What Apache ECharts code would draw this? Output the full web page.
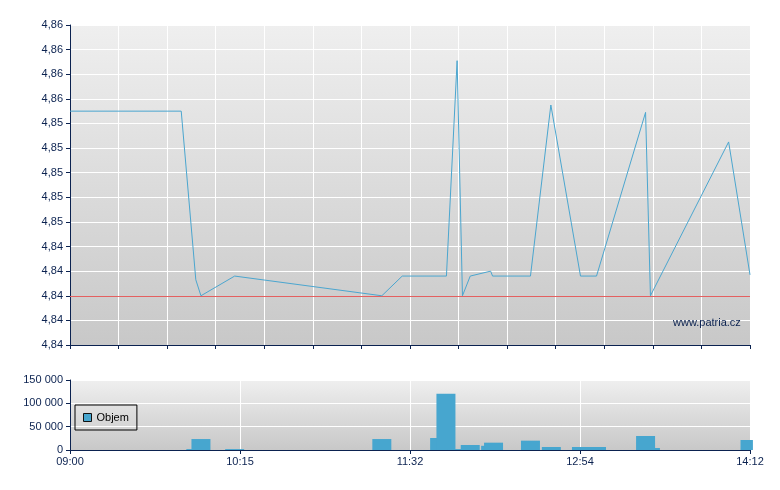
<!DOCTYPE html>
<html>
<head>
<meta charset="utf-8">
<script src="https://cdn.jsdelivr.net/npm/echarts@6/dist/echarts.min.js"></script>
<style>html,body{margin:0;padding:0;background:#fff}#c{width:780px;height:490px}</style>
</head>
<body>
<div id="c"></div>
<script>
// Position along the session axis (0 = 09:00, 140 = 14:12; label ticks every 35 units)
var priceX = [0, 22.9, 25.9, 26.96, 33.9, 64.2, 68.4, 77.5, 79.7, 80.8, 82.4, 86.6, 87.0, 94.8, 99.0, 105.1, 108.4, 118.5, 119.5, 135.6, 140];
var priceY = [4.8550, 4.8550, 4.8413, 4.8400, 4.8416, 4.8400, 4.8416, 4.8416, 4.8591, 4.8400, 4.8416, 4.8420, 4.8416, 4.8416, 4.8555, 4.8416, 4.8416, 4.8549, 4.8400, 4.8525, 4.8417];
var volumeX = [25.9, 26.96, 33.9, 64.2, 76.1, 77.4, 79.7, 82.4, 86.6, 87.2, 94.8, 99.1, 105.3, 108.4, 118.5, 119.5, 140];
var volumeY = [2000, 23500, 2000, 23500, 25700, 120600, 2000, 10700, 9000, 15700, 20000, 6400, 6400, 6400, 30000, 4300, 21400];
var previousClose = 4.84;
var xTickLabels = ['09:00', '10:15', '11:32', '12:54', '14:12'];

var navy = '#0b2250';
var font = 'Liberation Sans, Arial, sans-serif';
function bg() {
  return new echarts.graphic.LinearGradient(0, 0, 0, 1, [
    {offset: 0, color: '#efefef'}, {offset: 1, color: '#c8c8c8'}
  ]);
}
var pricePairs = priceX.map(function (x, i) { return [x, priceY[i]]; });
var volPairs = volumeX.map(function (x, i) { return [x, volumeY[i]]; });

var chart = echarts.init(document.getElementById('c'), null, {renderer: 'canvas'});
chart.setOption({
  animation: false,
  textStyle: {fontFamily: font},
  grid: [
    {left: 70, right: 30, top: 25, height: 320, show: true, backgroundColor: bg(), borderWidth: 0},
    {left: 70, right: 30, top: 380, height: 70, show: true, backgroundColor: bg(), borderWidth: 0}
  ],
  legend: {
    data: ['Objem'], left: 75, top: 405, orient: 'horizontal',
    borderColor: '#000', borderWidth: 1, borderRadius: 0, padding: [7, 8, 7, 8],
    itemWidth: 8, itemHeight: 8, itemGap: 5, icon: 'rect',
    itemStyle: {borderColor: '#111', borderWidth: 1},
    textStyle: {fontSize: 11, color: '#000', fontFamily: font}
  },
  xAxis: [
    {type: 'value', gridIndex: 0, min: 0, max: 140, interval: 10,
     axisLine: {show: true, lineStyle: {color: navy, width: 1}},
     axisTick: {show: true, inside: false, length: 4, lineStyle: {color: navy}},
     axisLabel: {show: false},
     splitLine: {show: true, lineStyle: {color: '#ffffff', width: 1}}},
    {type: 'value', gridIndex: 1, min: 0, max: 140, interval: 35,
     axisLine: {show: true, lineStyle: {color: navy, width: 1}},
     axisTick: {show: true, inside: false, length: 4, lineStyle: {color: navy}},
     axisLabel: {show: true, color: navy, fontSize: 11, margin: 6, fontFamily: font,
       formatter: function (v) { return xTickLabels[Math.round(v / 35)]; }},
     splitLine: {show: true, lineStyle: {color: '#ffffff', width: 1}}}
  ],
  yAxis: [
    {type: 'value', gridIndex: 0, min: 4.836, max: 4.862, interval: 0.002,
     axisLine: {show: true, lineStyle: {color: navy, width: 1}},
     axisTick: {show: true, inside: false, length: 4, lineStyle: {color: navy}},
     axisLabel: {color: navy, fontSize: 11, margin: 7, fontFamily: font,
       formatter: function (v) { return v.toFixed(2).replace('.', ','); }},
     splitLine: {show: true, lineStyle: {color: '#ffffff', width: 1}}},
    {type: 'value', gridIndex: 1, min: 0, max: 150000, interval: 50000,
     axisLine: {show: true, lineStyle: {color: navy, width: 1}},
     axisTick: {show: true, inside: false, length: 4, lineStyle: {color: navy}},
     axisLabel: {color: navy, fontSize: 11, margin: 7, fontFamily: font,
       formatter: function (v) { return String(Math.round(v)).replace(/\B(?=(\d{3})+(?!\d))/g, ' '); }},
     splitLine: {show: true, lineStyle: {color: '#ffffff', width: 1}}}
  ],
  series: [
    {name: 'Cena', type: 'line', xAxisIndex: 0, yAxisIndex: 0, data: pricePairs,
     showSymbol: false, symbol: 'none', lineStyle: {color: '#4ba6cf', width: 1}, z: 5,
     markLine: {silent: true, symbol: 'none', label: {show: false},
       lineStyle: {color: '#e46060', width: 1, type: 'solid'},
       data: [{yAxis: previousClose}]}},
    {name: 'Objem', type: 'bar', xAxisIndex: 1, yAxisIndex: 1, data: volPairs,
     barWidth: 19, itemStyle: {color: '#47a6cf'}, clip: true}
  ],
  graphic: [
    {type: 'text', left: 673, top: 317, z: 10,
     style: {text: 'www.patria.cz', fill: navy, font: '11px ' + font}}
  ]
});
</script>
</body>
</html>
